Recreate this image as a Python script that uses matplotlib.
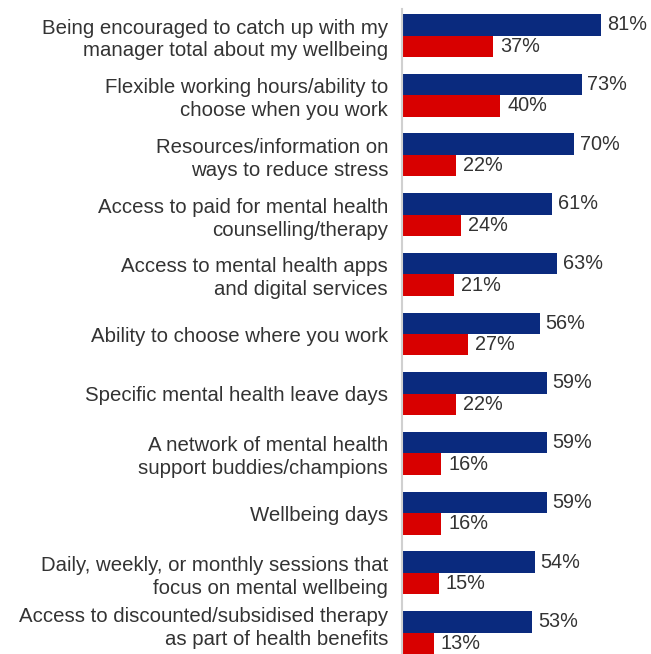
import matplotlib.pyplot as plt
from matplotlib.transforms import ScaledTranslation

categories = [
    "Being encouraged to catch up with my\nmanager total about my wellbeing",
    "Flexible working hours/ability to\nchoose when you work",
    "Resources/information on\nways to reduce stress",
    "Access to paid for mental health\ncounselling/therapy",
    "Access to mental health apps\nand digital services",
    "Ability to choose where you work",
    "Specific mental health leave days",
    "A network of mental health\nsupport buddies/champions",
    "Wellbeing days",
    "Daily, weekly, or monthly sessions that\nfocus on mental wellbeing",
    "Access to discounted/subsidised therapy\nas part of health benefits",
]
navy_vals = [81, 73, 70, 61, 63, 56, 59, 59, 59, 54, 53]
red_vals = [37, 40, 22, 24, 21, 27, 22, 16, 16, 15, 13]

C_NAVY = '#0A2A7E'
C_RED = '#D80000'
C_TEXT = '#333333'
FS_LABEL = 14.7
FS_VALUE = 14.3

plt.rcParams['font.family'] = ['Liberation Sans', 'DejaVu Sans']

W, H = 651, 654
fig = plt.figure(figsize=(W / 100, H / 100), dpi=100)
ax = fig.add_axes([402 / W, 0, 246 / W, 1 - 9 / H])

bh = 0.36
ys = list(range(len(categories)))
ax.barh([y - bh / 2 for y in ys], navy_vals, height=bh, color=C_NAVY)
ax.barh([y + bh / 2 for y in ys], red_vals, height=bh, color=C_RED)

for y, v in zip(ys, navy_vals):
    ax.annotate(f'{v}%', (v, y - bh / 2), xytext=(4, 0), textcoords='offset points',
                va='center', ha='left', fontsize=FS_VALUE, color=C_TEXT)
for y, v in zip(ys, red_vals):
    ax.annotate(f'{v}%', (v, y + bh / 2), xytext=(5, 0), textcoords='offset points',
                va='center', ha='left', fontsize=FS_VALUE, color=C_TEXT)

ax.set_yticks(ys)
ax.set_yticklabels(categories, fontsize=FS_LABEL, color=C_TEXT, linespacing=1.26)
ax.tick_params(axis='y', length=0, pad=10)
ax.set_xticks([])
ax.set_xlim(0, 100)
ax.set_ylim(10.36, -0.444)

# last label sits a little higher so it isn't clipped at the bottom edge
last = ax.get_yticklabels()[-1]
last.set_transform(last.get_transform() + ScaledTranslation(0, 6 / 72, fig.dpi_scale_trans))

for s in ['top', 'right', 'bottom']:
    ax.spines[s].set_visible(False)
ax.spines['left'].set_color('#D0D0D0')
ax.spines['left'].set_linewidth(1.5)

fig.savefig('out.png', dpi=100)
